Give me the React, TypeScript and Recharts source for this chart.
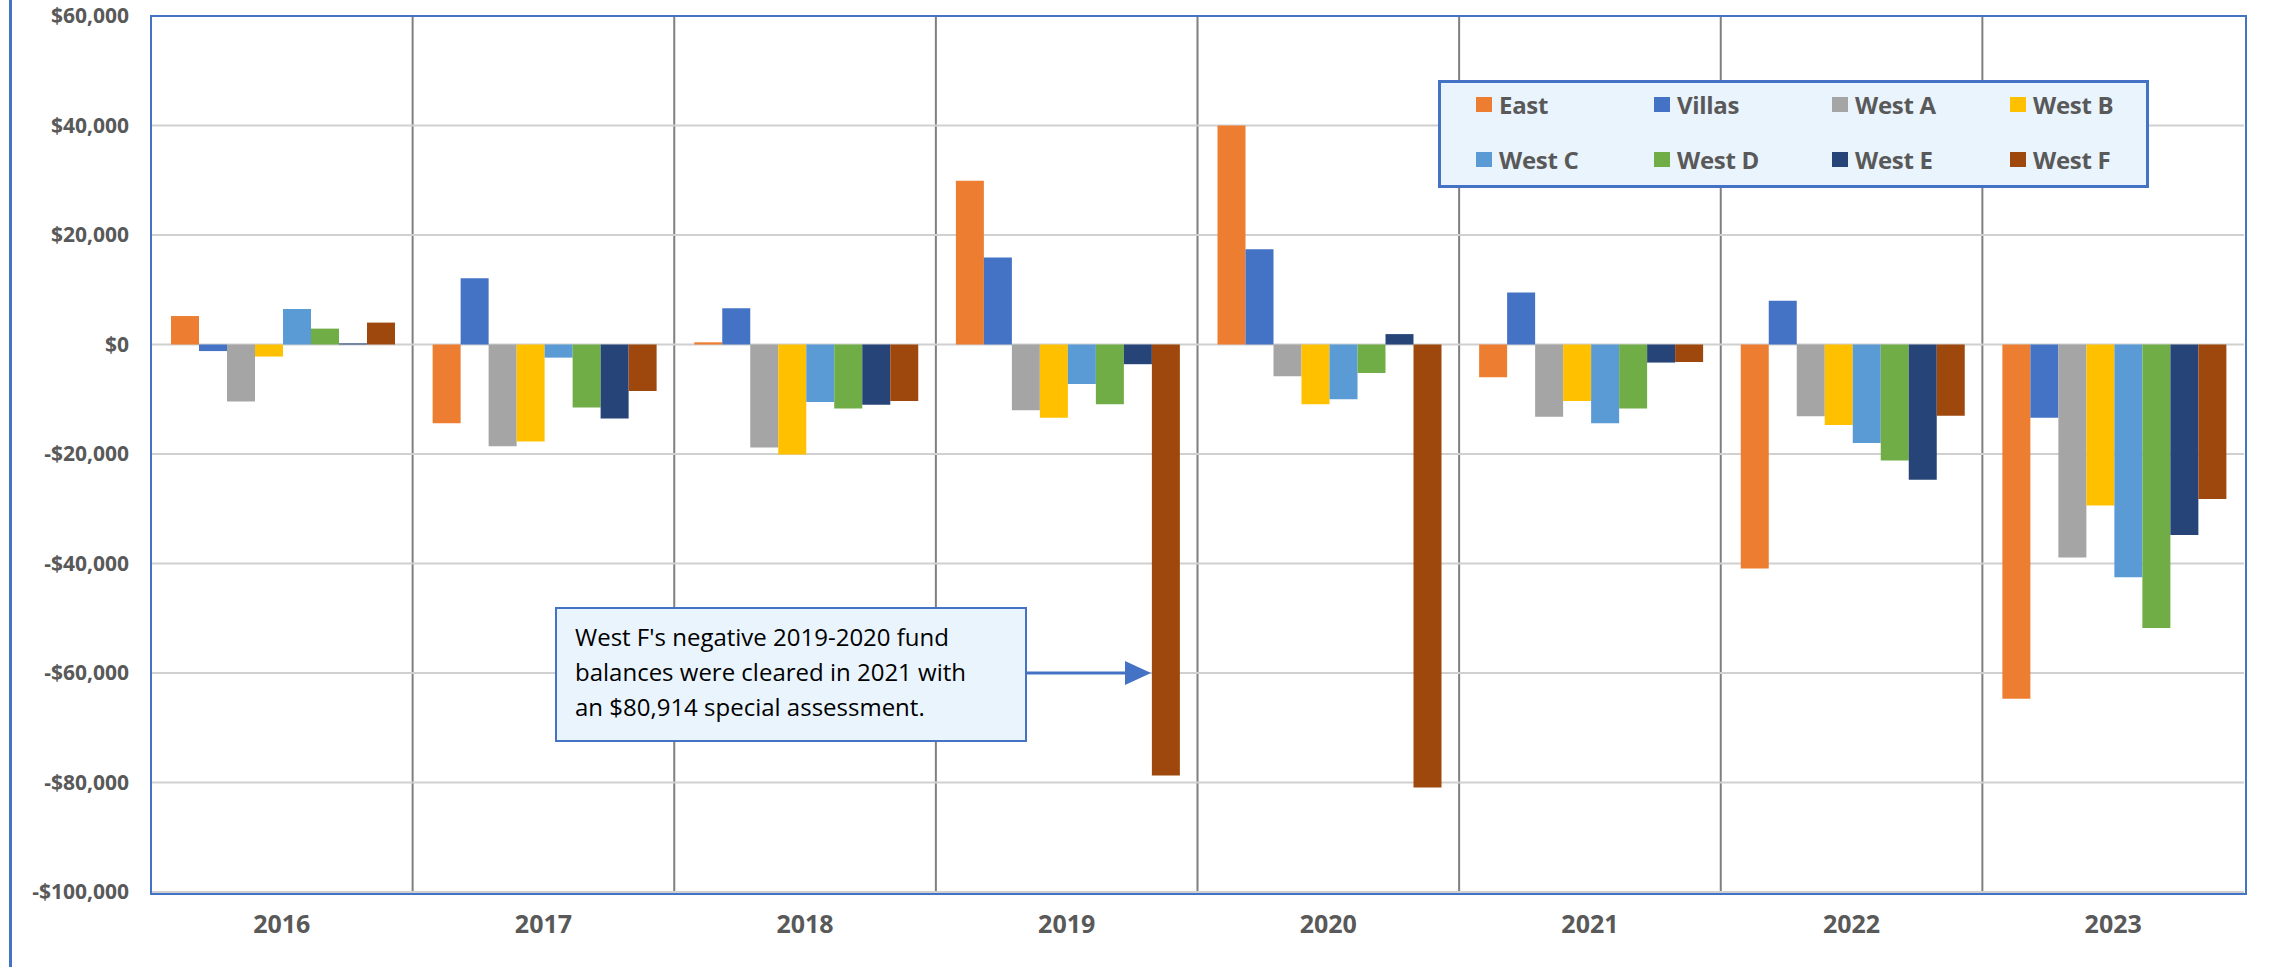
import React from "react";
import {
  BarChart,
  Bar,
  XAxis,
  YAxis,
  CartesianGrid,
  Legend,
} from "recharts";

const years = ["2016", "2017", "2018", "2019", "2020", "2021", "2022", "2023"];

const east = [5200, -14400, 400, 29900, 40000, -6000, -40900, -64700];
const villas = [-1200, 12100, 6600, 15900, 17400, 9500, 8000, -13400];
const westA = [-10400, -18600, -18800, -12000, -5800, -13200, -13100, -38900];
const westB = [-2200, -17700, -20100, -13400, -10900, -10300, -14700, -29400];
const westC = [6500, -2400, -10500, -7200, -10000, -14400, -18000, -42500];
const westD = [2900, -11500, -11700, -10900, -5200, -11700, -21200, -51800];
const westE = [200, -13500, -11000, -3600, 1900, -3300, -24700, -34800];
const westF = [4000, -8500, -10300, -78700, -80914, -3200, -13000, -28200];

const yTicks = [60000, 40000, 20000, 0, -20000, -40000, -60000, -80000, -100000];

const seriesList = [
  { key: "East", values: east, color: "#ED7D31" },
  { key: "Villas", values: villas, color: "#4472C4" },
  { key: "West A", values: westA, color: "#A5A5A5" },
  { key: "West B", values: westB, color: "#FFC000" },
  { key: "West C", values: westC, color: "#5B9BD5" },
  { key: "West D", values: westD, color: "#70AD47" },
  { key: "West E", values: westE, color: "#264478" },
  { key: "West F", values: westF, color: "#9E480E" },
];

const data = years.map((year, i) => {
  const row: Record<string, string | number> = { year };
  seriesList.forEach((s) => {
    row[s.key] = s.values[i];
  });
  return row;
});

const W = 2292;
const H = 967;
const M_TOP = 16;
const M_RIGHT = 48;
const Y_WIDTH = 151;
const X_HEIGHT = 75;
const BLUE = "#4472C4";
const TEXT = "#595959";
const FONT = "'Open Sans', 'Liberation Sans', sans-serif";

const fmtMoney = (v: number) =>
  (v < 0 ? "-$" : "$") + Math.abs(v).toLocaleString("en-US");

const LegendBox = (props: any) => {
  const payload = props.payload || [];
  return (
    <div
      style={{
        boxSizing: "border-box",
        width: 711,
        height: 108,
        border: `3px solid ${BLUE}`,
        background: "#EAF4FD",
        paddingLeft: 35,
        paddingTop: 0,
        display: "grid",
        gridTemplateColumns: "repeat(4, 178px)",
        gridAutoRows: "42px",
        rowGap: 13,
        fontFamily: FONT,
      }}
    >
      {payload.map((p: any) => (
        <div
          key={p.value}
          style={{ display: "flex", alignItems: "center", gap: 7 }}
        >
          <span
            style={{ width: 16, height: 15, background: p.color, display: "inline-block" }}
          />
          <span style={{ fontSize: 24, fontWeight: 700, color: TEXT, letterSpacing: -0.3 }}>
            {p.value}
          </span>
        </div>
      ))}
    </div>
  );
};

export default function App() {
  const plotLeft = Y_WIDTH;
  const plotTop = M_TOP;
  const plotW = W - Y_WIDTH - M_RIGHT;
  const plotH = H - M_TOP - X_HEIGHT;

  return (
    <div
      style={{
        position: "fixed",
        left: 0,
        top: 0,
        width: W,
        height: H,
        background: "#fff",
        fontFamily: FONT,
      }}
    >
      <BarChart
        width={W}
        height={H}
        data={data}
        margin={{ top: M_TOP, right: M_RIGHT, bottom: 0, left: 0 }}
        barCategoryGap={20}
        barGap={0}
      >
        <CartesianGrid
          horizontal={false}
          stroke="#7F7F7F"
          strokeWidth={2}
          verticalCoordinatesGenerator={({ offset }: any) =>
            years.slice(1).map((_, i) => offset.left + ((i + 1) * offset.width) / years.length)
          }
        />
        <CartesianGrid vertical={false} stroke="#D0D0D0" strokeWidth={2} />
        <XAxis
          dataKey="year"
          height={X_HEIGHT}
          axisLine={false}
          tickLine={false}
          tickSize={0}
          tickMargin={23}
          tick={{ fill: TEXT, fontSize: 25, fontWeight: 700, fontFamily: FONT }}
        />
        <YAxis
          width={Y_WIDTH}
          domain={[-100000, 60000]}
          ticks={yTicks}
          interval={0}
          axisLine={false}
          tickLine={false}
          tickSize={0}
          tickMargin={22}
          tickFormatter={fmtMoney}
          tick={{ fill: TEXT, fontSize: 21, fontWeight: 700, fontFamily: FONT }}
        />
        <Legend
          layout="horizontal"
          verticalAlign="middle"
          align="center"
          content={<LegendBox />}
          wrapperStyle={{ left: 1438, top: 80, width: 711, height: 108 }}
        />
        {seriesList.map((s) => (
          <Bar
            key={s.key}
            dataKey={s.key}
            fill={s.color}
            isAnimationActive={false}
          />
        ))}
      </BarChart>

      {/* plot area frame */}
      <div
        style={{
          position: "absolute",
          left: plotLeft - 1,
          top: plotTop - 1,
          width: plotW,
          height: plotH,
          border: `2px solid ${BLUE}`,
          pointerEvents: "none",
        }}
      />
      {/* outer chart border, left side */}
      <div
        style={{
          position: "absolute",
          left: 9,
          top: 0,
          width: 3,
          height: H,
          background: BLUE,
        }}
      />

      {/* annotation */}
      <div
        style={{
          position: "absolute",
          left: 555,
          top: 607,
          width: 472,
          height: 135,
          boxSizing: "border-box",
          border: `2px solid ${BLUE}`,
          background: "#EAF4FD",
          padding: "10px 0 0 18px",
          fontSize: 24,
          lineHeight: "35px",
          color: "#000",
          fontFamily: FONT,
          whiteSpace: "nowrap",
        }}
      >
        West F's negative 2019-2020 fund
        <br />
        balances were cleared in 2021 with
        <br />
        an $80,914 special assessment.
      </div>
      <svg
        style={{ position: "absolute", left: 0, top: 0, pointerEvents: "none" }}
        width={W}
        height={H}
      >
        <line x1={1027} y1={673} x2={1127} y2={673} stroke={BLUE} strokeWidth={3} />
        <polygon points="1125,661 1151,673 1125,685" fill={BLUE} />
      </svg>
    </div>
  );
}
